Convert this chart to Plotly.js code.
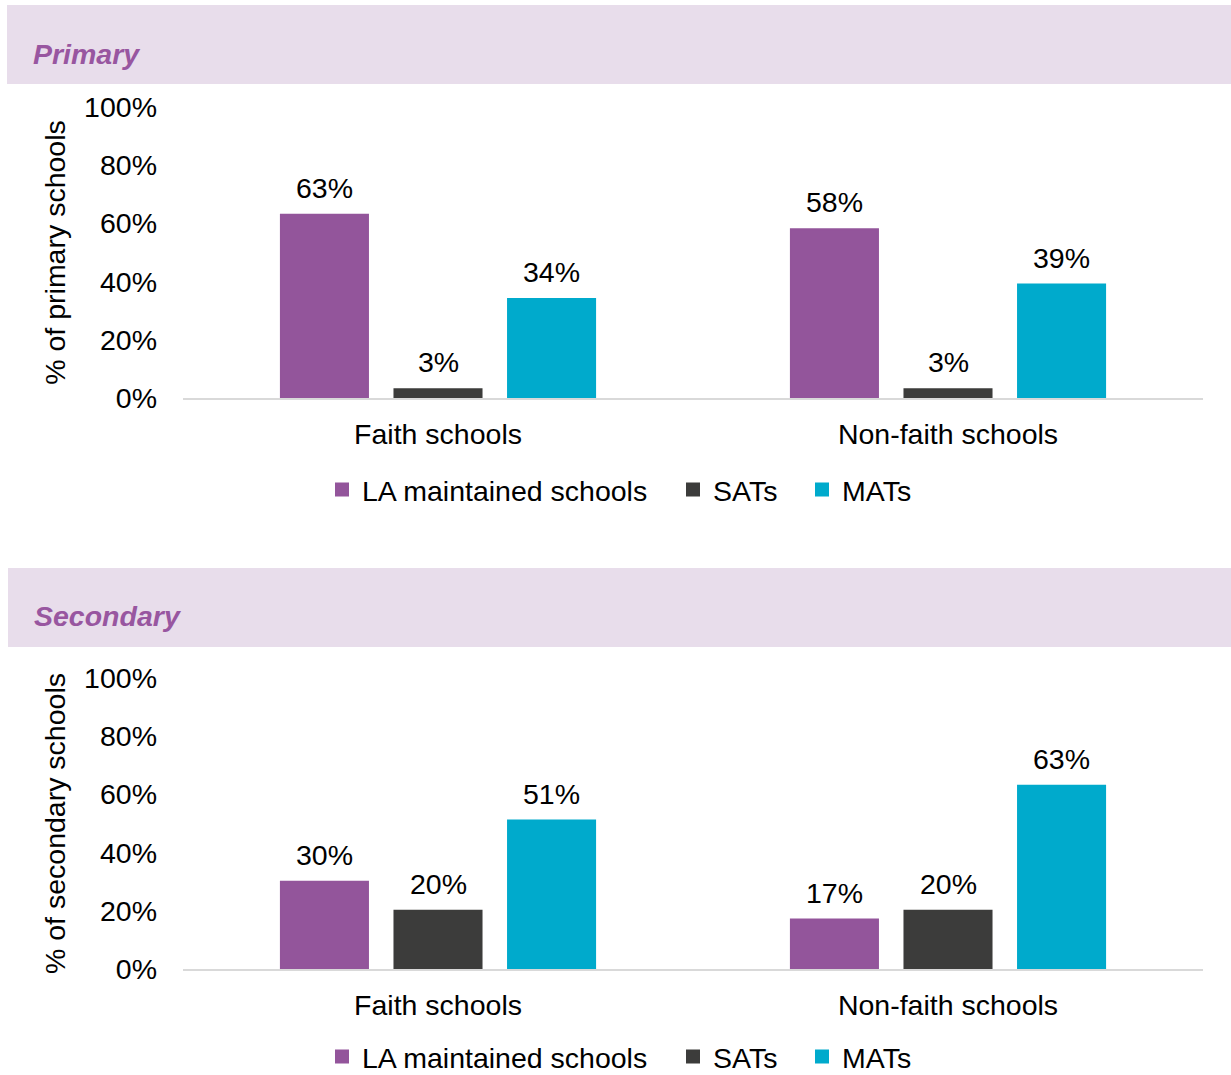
<!DOCTYPE html>
<html>
<head>
<meta charset="utf-8">
<script src="https://cdn.plot.ly/plotly-3.0.1.min.js"></script>
<style>html,body{margin:0;padding:0;background:#fff;}#chart{width:1231px;height:1075px;}</style>
</head>
<body>
<div id="chart"></div>
<script>
// ---- data ----
const categories = ["Faith schools", "Non-faith schools"];
const seriesNames = ["LA maintained schools", "SATs", "MATs"];
const primaryLA = [63, 58];
const primarySAT = [3, 3];
const primaryMAT = [34, 39];
const secondaryLA = [30, 17];
const secondarySAT = [20, 20];
const secondaryMAT = [51, 63];
const panelTitles = ["Primary", "Secondary"];
const yTitles = ["% of primary schools", "% of secondary schools"];
const tickValues = [0, 20, 40, 60, 80, 100];
const tickLabels = tickValues.map(v => v + "%");

// ---- style ----
const colors = ["#93559B", "#3C3C3B", "#00AACC"];
const FONT = "Liberation Sans, Arial, sans-serif";
const FS = 28.5;
const W = 1231, H = 1075, ML = 183, MR = 28;
const PW = W - ML - MR;
const px = x => (x - ML) / PW;      // pixel x -> paper x
const py = y => 1 - y / H;          // pixel y -> paper y

// legend item square centres (px) and legend row centres (px)
const legendSquareX = [345, 696, 825];
const legendRowY = [490, 1057];

const panels = [
  {vals: [primaryLA, primarySAT, primaryMAT], xa: "x", ya: "y", legends: ["legend", "legend3", "legend4"]},
  {vals: [secondaryLA, secondarySAT, secondaryMAT], xa: "x2", ya: "y2", legends: ["legend2", "legend5", "legend6"]}
];

const traces = [];
const annotations = [];
const legendCommon = {
  orientation: "h", xref: "paper", yref: "paper",
  xanchor: "left", yanchor: "middle",
  font: {family: FONT, size: FS, color: "#000"},
  bgcolor: "rgba(0,0,0,0)", borderwidth: 0
};
const legends = {};
panels.forEach((p, pi) => {
  p.vals.forEach((v, si) => {
    traces.push({
      type: "bar",
      x: categories,
      y: v,
      name: seriesNames[si],
      xaxis: p.xa,
      yaxis: p.ya,
      legend: p.legends[si],
      marker: {color: colors[si], line: {color: colors[si], width: 2}},
      hoverinfo: "none"
    });
    legends[p.legends[si]] = Object.assign({}, legendCommon, {
      x: px(legendSquareX[si] - 23), y: py(legendRowY[pi])
    });
    v.forEach((val, ci) => {
      annotations.push({
        x: categories[ci], y: val, xref: p.xa, yref: p.ya,
        text: val + "%", showarrow: false,
        xanchor: "center", yanchor: "middle",
        xshift: (si - 1) * 113.5, yshift: 27,
        font: {family: FONT, size: FS, color: "#000"}
      });
    });
  });
});

// panel titles
[[33, 54], [34, 616]].forEach((pos, i) => {
  annotations.push({
    xref: "paper", yref: "paper", x: px(pos[0] - 2), y: py(pos[1]),
    xanchor: "left", yanchor: "middle", showarrow: false,
    text: "<b><i>" + panelTitles[i] + "</i></b>",
    font: {family: FONT, size: FS, color: "#9856A0"}
  });
});

const bandColor = "#E8DDEB";
const shapes = [
  {type: "rect", xref: "paper", yref: "paper", x0: px(7), x1: px(1231), y0: py(84), y1: py(5),
   fillcolor: bandColor, line: {width: 0}, layer: "below"},
  {type: "rect", xref: "paper", yref: "paper", x0: px(8), x1: px(1231), y0: py(647), y1: py(568),
   fillcolor: bandColor, line: {width: 0}, layer: "below"}
];

function xAxis(anchor) {
  return {
    domain: [0, 1], anchor: anchor, type: "category",
    showline: true, linecolor: "#D9D9D9", linewidth: 2,
    ticks: "", showgrid: false, zeroline: false,
    tickfont: {family: FONT, size: FS, color: "#000"},
    ticklabelstandoff: 10, fixedrange: true
  };
}
function yAxis(anchor, dom, title) {
  return {
    domain: dom, anchor: anchor, range: [0, 100],
    tickmode: "array", tickvals: tickValues, ticktext: tickLabels,
    showgrid: false, zeroline: false, showline: false, ticks: "",
    tickfont: {family: FONT, size: FS, color: "#000"},
    ticklabelstandoff: 25,
    title: {text: title, font: {family: FONT, size: FS, color: "#000"}, standoff: 10},
    fixedrange: true
  };
}

const layout = Object.assign({
  width: W, height: H,
  margin: {l: ML, r: MR, t: 0, b: 0, autoexpand: false},
  paper_bgcolor: "#fff", plot_bgcolor: "#fff",
  font: {family: FONT, size: FS, color: "#000"},
  barmode: "group", bargap: 0.332, bargroupgap: 0.2335,
  xaxis: xAxis("y"),
  yaxis: yAxis("x", [py(398), py(107)], yTitles[0]),
  xaxis2: xAxis("y2"),
  yaxis2: yAxis("x2", [py(969), py(678)], yTitles[1]),
  showlegend: true,
  shapes: shapes,
  annotations: annotations
}, legends);

Plotly.newPlot("chart", traces, layout, {staticPlot: true, displayModeBar: false});
</script>
</body>
</html>
